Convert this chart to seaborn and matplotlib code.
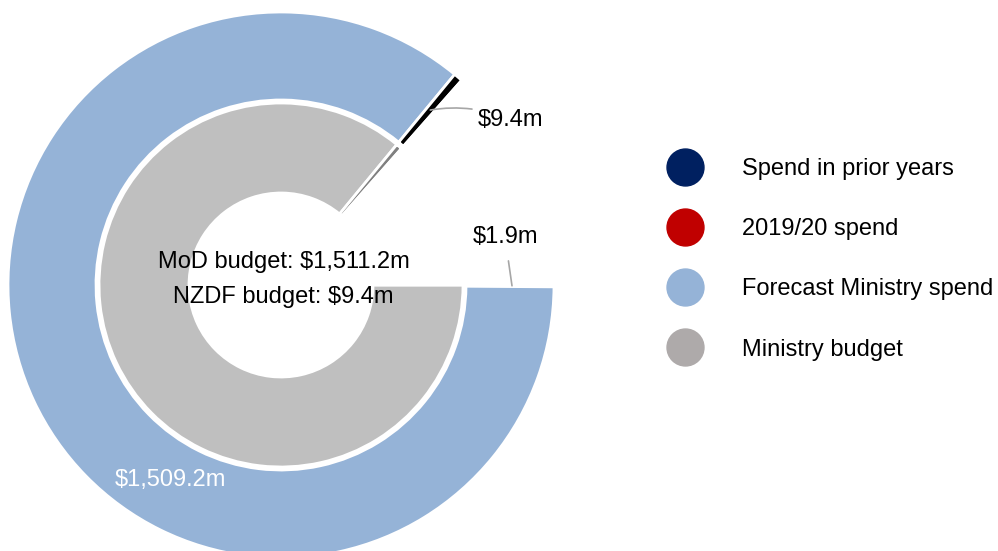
import numpy as np
import matplotlib
matplotlib.use('Agg')
import matplotlib.pyplot as plt
from matplotlib.lines import Line2D
import seaborn as sns

sns.set_style('white')
plt.rcParams['font.family'] = ['Liberation Sans', 'DejaVu Sans']
plt.rcParams['text.color'] = 'black'

# Outer ring: spend (clockwise from 3 o'clock)
outer_labels = ['2019/20 spend', 'Forecast Ministry spend', 'Spend in prior years']
outer_values = [1.9, 1509.2, 9.4]
# Inner ring: budget
inner_labels = ['MoD budget', 'NZDF budget']
inner_values = [1511.2, 9.4]
unshown = 237.1

legend_labels = ['Spend in prior years', '2019/20 spend',
                 'Forecast Ministry spend', 'Ministry budget']
legend_colors = ['#002060', '#C00000', '#95B3D7', '#AEAAAA']

outer_colors = ['#C00000', '#95B3D7', '#000000', 'none']
inner_colors = ['#BFBFBF', '#808080', 'none']

# Draw
fig = plt.figure(figsize=(9.98, 5.51), dpi=100)
ax = fig.add_axes([0, 0, 1, 1])

cx, cy = 281, 266
r_out, w_out = 273, 88
r_in, w_in = 182, 90

ax.pie(outer_values + [unshown], radius=r_out, center=(cx, cy),
       colors=outer_colors, startangle=0, counterclock=False,
       wedgeprops=dict(width=w_out, edgecolor='white', linewidth=2))
ax.pie(inner_values + [unshown], radius=r_in, center=(cx, cy),
       colors=inner_colors, startangle=0, counterclock=False,
       wedgeprops=dict(width=w_in, edgecolor='white', linewidth=2))

ax.set_xlim(0, 998)
ax.set_ylim(0, 551)
ax.set_aspect('equal')
ax.axis('off')

total = sum(outer_values) + unshown


def polar(angle_deg, r):
    a = np.deg2rad(angle_deg)
    return cx + r * np.cos(a), cy + r * np.sin(a)


# angle (math convention) in the middle of a slice of the outer ring
def mid_angle(i):
    before = sum(outer_values[:i])
    return -360 * (before + outer_values[i] / 2) / total


fs = 17
grey_line = '#A6A6A6'

# $9.4m (prior years)
ax.annotate('$9.4m', xy=polar(mid_angle(2), 230), xytext=(478, 431),
            fontsize=fs, va='center', ha='left',
            arrowprops=dict(arrowstyle='-', color=grey_line, lw=1.2,
                            shrinkA=2, shrinkB=0,
                            connectionstyle='arc3,rad=0.15'))
# $1.9m (2019/20)
ax.annotate('$1.9m', xy=polar(mid_angle(0), 231), xytext=(505, 314),
            fontsize=fs, va='center', ha='center',
            arrowprops=dict(arrowstyle='-', color=grey_line, lw=1.2,
                            shrinkA=7, shrinkB=0))
# forecast spend in white on the ring
ax.text(*polar(240.5, 224), '$1,509.2m', fontsize=fs, color='white',
        ha='center', va='center')

# centre text
ax.text(cx + 3, cy + 23, f'MoD budget: ${inner_values[0]:,.1f}m',
        fontsize=fs, ha='center', va='center')
ax.text(cx + 2, cy - 12, f'NZDF budget: ${inner_values[1]:.1f}m',
        fontsize=fs, ha='center', va='center')

# legend
handles = [Line2D([], [], linestyle='none', marker='o', markersize=26.6,
                  markerfacecolor=c, markeredgecolor=c) for c in legend_colors]
fig.legend(handles, legend_labels, loc='upper left',
           bbox_to_anchor=(661 / 998, 1 - 158 / 551), frameon=False,
           fontsize=fs, handlelength=2.0, handletextpad=1.44,
           labelspacing=1.62, borderpad=0, borderaxespad=0)

fig.savefig('out.png', dpi=100)
